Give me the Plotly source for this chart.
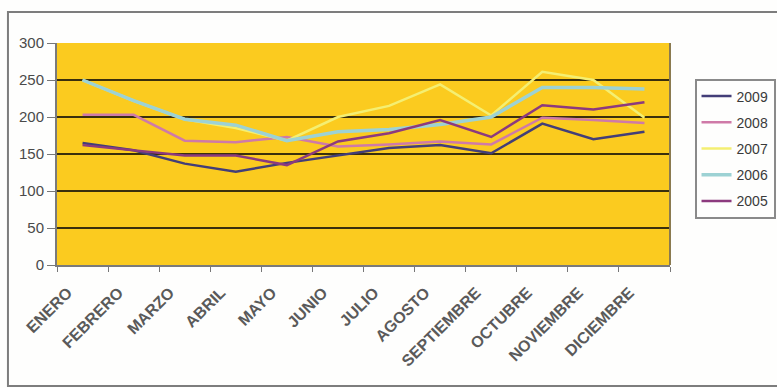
import plotly.graph_objects as go

# Meses del año (eje de categorías)
meses = ["ENERO", "FEBRERO", "MARZO", "ABRIL", "MAYO", "JUNIO", "JULIO",
         "AGOSTO", "SEPTIEMBRE", "OCTUBRE", "NOVIEMBRE", "DICIEMBRE"]

# Valores mensuales por año
serie_2009 = [165, 155, 137, 126, 138, 148, 158, 162, 151, 191, 170, 180]
serie_2008 = [203, 203, 168, 166, 173, 160, 163, 167, 163, 199, 196, 192]
serie_2007 = [250, 222, 197, 185, 168, 200, 215, 244, 202, 261, 250, 199]
serie_2006 = [250, 222, 197, 189, 168, 180, 183, 190, 200, 240, 240, 238]
serie_2005 = [162, 155, 148, 148, 135, 167, 178, 196, 173, 216, 210, 220]

anios = ["2009", "2008", "2007", "2006", "2005"]
series = [serie_2009, serie_2008, serie_2007, serie_2006, serie_2005]
colores = ["#433E78", "#CF7AA8", "#F4EF72", "#9DD2D4", "#8C3A7E"]
anchos = [2.5, 2.5, 2.5, 3.5, 2.5]

y_ticks = [0, 50, 100, 150, 200, 250, 300]

fig = go.Figure()
for anio, valores, color, ancho in zip(anios, series, colores, anchos):
    fig.add_trace(go.Scatter(
        x=meses, y=valores, name=anio, mode="lines",
        line=dict(color=color, width=ancho),
        legendgroup=anio,
    ))

familia = "Liberation Sans, Arial, sans-serif"

fig.update_layout(
    template="none",
    width=777, height=388,
    margin=dict(l=57, r=107, t=43, b=123, autoexpand=False),
    paper_bgcolor="#FEFEFD",
    plot_bgcolor="#FBCB1F",
    font=dict(family=familia, size=13, color="#4a4a4a"),
    showlegend=True,
    legend=dict(
        x=1.04, y=0.84, xanchor="left", yanchor="top",
        bgcolor="#FEFEFD", bordercolor="#8a8a8a", borderwidth=2,
        font=dict(family=familia, size=14, color="#3a3a3a"),
        tracegroupgap=5, itemwidth=30,
    ),
    xaxis=dict(
        type="category", tickangle=-45, tickson="boundaries",
        ticks="outside", ticklen=5, tickcolor="#777777", tickwidth=1,
        showline=True, linecolor="#7a7a7a", linewidth=2,
        showgrid=False, automargin=False,
        ticklabelstandoff=10, ticklabelshift=-15,
        tickfont=dict(family=familia, size=16, color="#5a5a5a", weight="bold"),
        range=[-0.5, 11.5],
    ),
    yaxis=dict(
        range=[0, 300], tickvals=y_ticks,
        ticks="outside", ticklen=8, tickcolor="#777777", tickwidth=1,
        showline=True, linecolor="#7a7a7a", linewidth=2,
        showgrid=True, gridcolor="#3a2f0c", gridwidth=2,
        zeroline=False, automargin=False,
        tickfont=dict(family=familia, size=15, color="#4a4a4a"),
    ),
    shapes=[
        # marco exterior del gráfico
        dict(type="rect", xref="paper", yref="paper",
             x0=-0.080, x1=1.25, y0=-0.545, y1=1.14,
             line=dict(color="#7d7d7d", width=2), layer="below"),
        # borde derecho del área de trazado
        dict(type="line", xref="paper", yref="paper",
             x0=1, x1=1, y0=0, y1=1,
             line=dict(color="#8a7a50", width=2)),
    ],
)

fig.write_html("out.html")
